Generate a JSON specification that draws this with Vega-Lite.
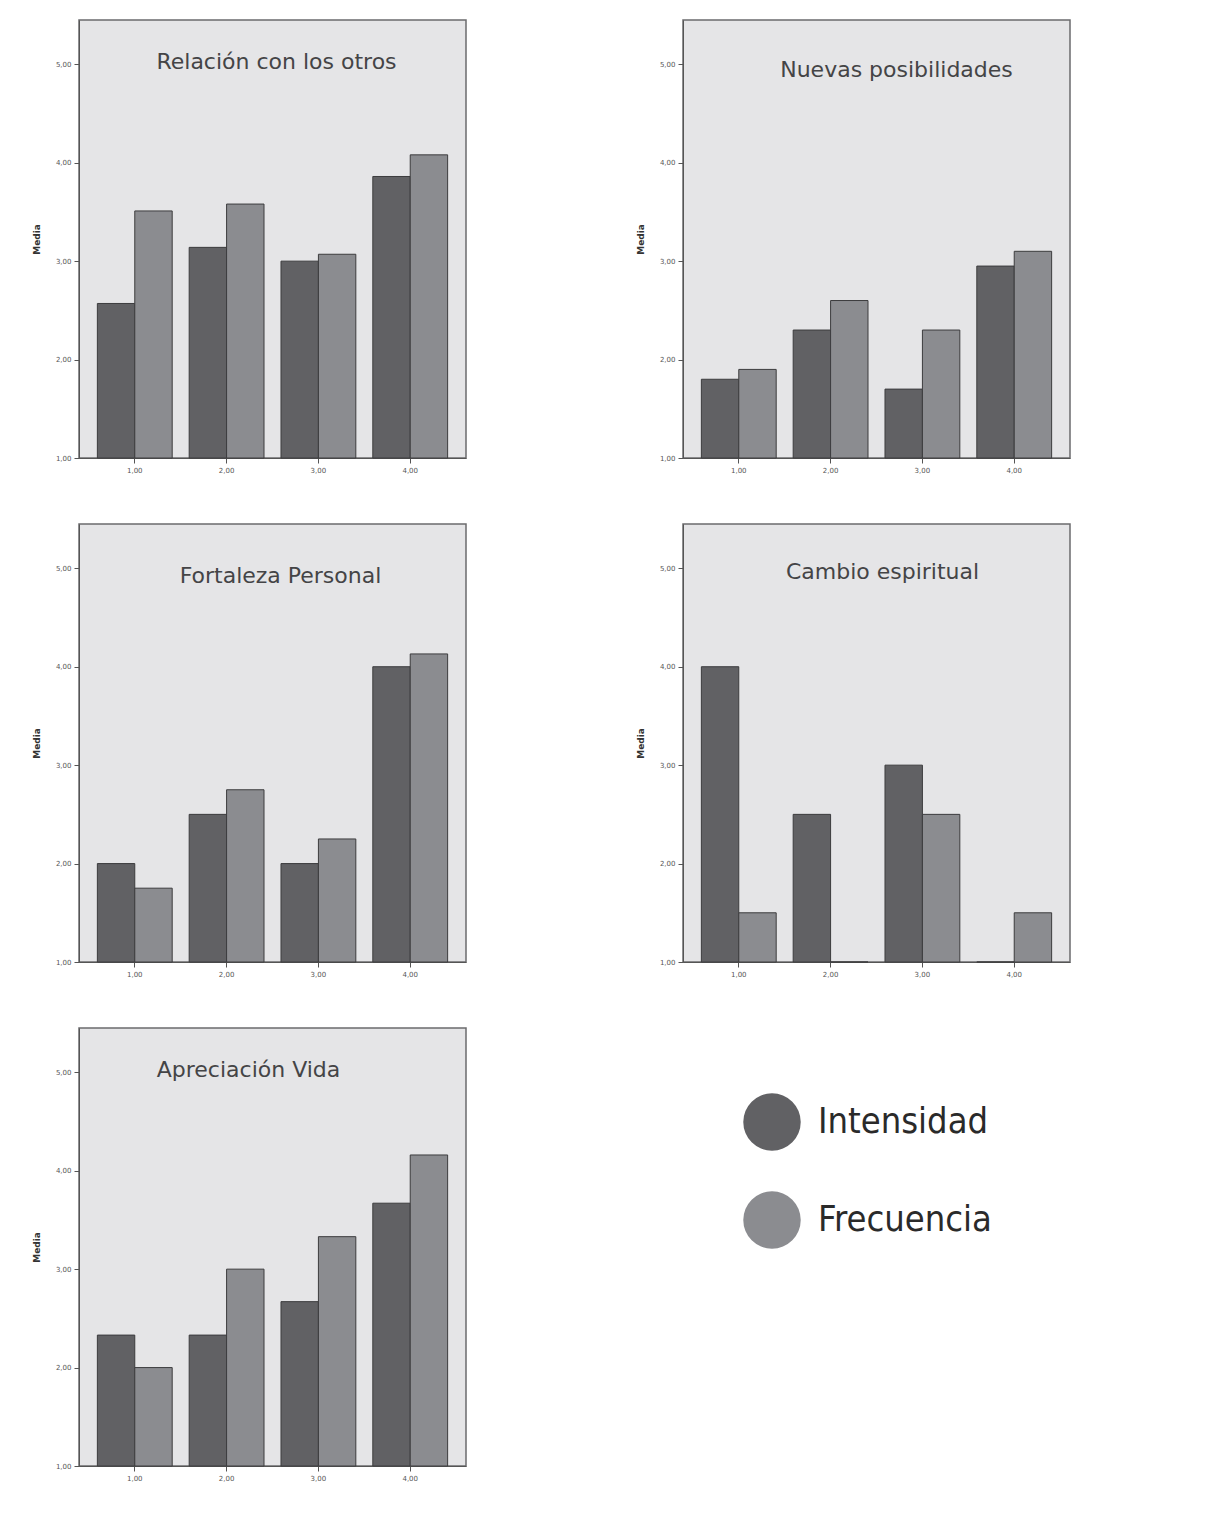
{
  "$schema": "https://vega.github.io/schema/vega-lite/v6.json",
  "background": "white",
  "padding": {"left": 31, "top": 19, "right": 5, "bottom": 5},
  "datasets": {
    "d": [
      {"panel": "Relación con los otros", "grupo": "1,00", "serie": "Intensidad", "media": 2.57},
      {"panel": "Relación con los otros", "grupo": "1,00", "serie": "Frecuencia", "media": 3.51},
      {"panel": "Relación con los otros", "grupo": "2,00", "serie": "Intensidad", "media": 3.14},
      {"panel": "Relación con los otros", "grupo": "2,00", "serie": "Frecuencia", "media": 3.58},
      {"panel": "Relación con los otros", "grupo": "3,00", "serie": "Intensidad", "media": 3.0},
      {"panel": "Relación con los otros", "grupo": "3,00", "serie": "Frecuencia", "media": 3.07},
      {"panel": "Relación con los otros", "grupo": "4,00", "serie": "Intensidad", "media": 3.86},
      {"panel": "Relación con los otros", "grupo": "4,00", "serie": "Frecuencia", "media": 4.08},
      {"panel": "Nuevas posibilidades", "grupo": "1,00", "serie": "Intensidad", "media": 1.8},
      {"panel": "Nuevas posibilidades", "grupo": "1,00", "serie": "Frecuencia", "media": 1.9},
      {"panel": "Nuevas posibilidades", "grupo": "2,00", "serie": "Intensidad", "media": 2.3},
      {"panel": "Nuevas posibilidades", "grupo": "2,00", "serie": "Frecuencia", "media": 2.6},
      {"panel": "Nuevas posibilidades", "grupo": "3,00", "serie": "Intensidad", "media": 1.7},
      {"panel": "Nuevas posibilidades", "grupo": "3,00", "serie": "Frecuencia", "media": 2.3},
      {"panel": "Nuevas posibilidades", "grupo": "4,00", "serie": "Intensidad", "media": 2.95},
      {"panel": "Nuevas posibilidades", "grupo": "4,00", "serie": "Frecuencia", "media": 3.1},
      {"panel": "Fortaleza Personal", "grupo": "1,00", "serie": "Intensidad", "media": 2.0},
      {"panel": "Fortaleza Personal", "grupo": "1,00", "serie": "Frecuencia", "media": 1.75},
      {"panel": "Fortaleza Personal", "grupo": "2,00", "serie": "Intensidad", "media": 2.5},
      {"panel": "Fortaleza Personal", "grupo": "2,00", "serie": "Frecuencia", "media": 2.75},
      {"panel": "Fortaleza Personal", "grupo": "3,00", "serie": "Intensidad", "media": 2.0},
      {"panel": "Fortaleza Personal", "grupo": "3,00", "serie": "Frecuencia", "media": 2.25},
      {"panel": "Fortaleza Personal", "grupo": "4,00", "serie": "Intensidad", "media": 4.0},
      {"panel": "Fortaleza Personal", "grupo": "4,00", "serie": "Frecuencia", "media": 4.13},
      {"panel": "Cambio espiritual", "grupo": "1,00", "serie": "Intensidad", "media": 4.0},
      {"panel": "Cambio espiritual", "grupo": "1,00", "serie": "Frecuencia", "media": 1.5},
      {"panel": "Cambio espiritual", "grupo": "2,00", "serie": "Intensidad", "media": 2.5},
      {"panel": "Cambio espiritual", "grupo": "2,00", "serie": "Frecuencia", "media": 1.0},
      {"panel": "Cambio espiritual", "grupo": "3,00", "serie": "Intensidad", "media": 3.0},
      {"panel": "Cambio espiritual", "grupo": "3,00", "serie": "Frecuencia", "media": 2.5},
      {"panel": "Cambio espiritual", "grupo": "4,00", "serie": "Intensidad", "media": 1.0},
      {"panel": "Cambio espiritual", "grupo": "4,00", "serie": "Frecuencia", "media": 1.5},
      {"panel": "Apreciación Vida", "grupo": "1,00", "serie": "Intensidad", "media": 2.33},
      {"panel": "Apreciación Vida", "grupo": "1,00", "serie": "Frecuencia", "media": 2.0},
      {"panel": "Apreciación Vida", "grupo": "2,00", "serie": "Intensidad", "media": 2.33},
      {"panel": "Apreciación Vida", "grupo": "2,00", "serie": "Frecuencia", "media": 3.0},
      {"panel": "Apreciación Vida", "grupo": "3,00", "serie": "Intensidad", "media": 2.67},
      {"panel": "Apreciación Vida", "grupo": "3,00", "serie": "Frecuencia", "media": 3.33},
      {"panel": "Apreciación Vida", "grupo": "4,00", "serie": "Intensidad", "media": 3.67},
      {"panel": "Apreciación Vida", "grupo": "4,00", "serie": "Frecuencia", "media": 4.16}
    ]
  },
  "columns": 2,
  "spacing": {"column": 168, "row": 49},
  "concat": [
    {
      "title": {"text": "Relación con los otros", "offset": -54, "dx": 4},
      "data": {"name": "d"},
      "transform": [{"filter": "datum.panel == 'Relación con los otros'"}],
      "width": 387, "height": 438,
      "mark": {"type": "bar", "stroke": "#3c3c3e", "strokeWidth": 1},
      "encoding": {
        "x": {"field": "grupo", "type": "nominal", "scale": {"paddingInner": 0.185, "paddingOuter": 0.2}, "axis": {"title": null}},
        "xOffset": {"field": "serie", "sort": ["Intensidad", "Frecuencia"], "scale": {"paddingInner": 0, "paddingOuter": 0}},
        "y": {"field": "media", "type": "quantitative", "scale": {"domain": [1, 5.45], "zero": false, "nice": false}, "axis": {"title": "Media", "values": [1, 2, 3, 4, 5], "labelExpr": "replace(format(datum.value, '.2f'), '.', ',')"}},
        "y2": {"datum": 1},
        "color": {"field": "serie", "type": "nominal", "scale": {"domain": ["Intensidad", "Frecuencia"], "range": ["#616164", "#8b8c90"]}, "legend": {"title": null}}
      }
    },
    {
      "title": {"text": "Nuevas posibilidades", "offset": -62, "dx": 20},
      "data": {"name": "d"},
      "transform": [{"filter": "datum.panel == 'Nuevas posibilidades'"}],
      "width": 387, "height": 438,
      "mark": {"type": "bar", "stroke": "#3c3c3e", "strokeWidth": 1},
      "encoding": {
        "x": {"field": "grupo", "type": "nominal", "scale": {"paddingInner": 0.185, "paddingOuter": 0.2}, "axis": {"title": null}},
        "xOffset": {"field": "serie", "sort": ["Intensidad", "Frecuencia"], "scale": {"paddingInner": 0, "paddingOuter": 0}},
        "y": {"field": "media", "type": "quantitative", "scale": {"domain": [1, 5.45], "zero": false, "nice": false}, "axis": {"title": "Media", "values": [1, 2, 3, 4, 5], "labelExpr": "replace(format(datum.value, '.2f'), '.', ',')"}},
        "y2": {"datum": 1},
        "color": {"field": "serie", "type": "nominal", "scale": {"domain": ["Intensidad", "Frecuencia"], "range": ["#616164", "#8b8c90"]}, "legend": {"title": null}}
      }
    },
    {
      "title": {"text": "Fortaleza Personal", "offset": -64, "dx": 8},
      "data": {"name": "d"},
      "transform": [{"filter": "datum.panel == 'Fortaleza Personal'"}],
      "width": 387, "height": 438,
      "mark": {"type": "bar", "stroke": "#3c3c3e", "strokeWidth": 1},
      "encoding": {
        "x": {"field": "grupo", "type": "nominal", "scale": {"paddingInner": 0.185, "paddingOuter": 0.2}, "axis": {"title": null}},
        "xOffset": {"field": "serie", "sort": ["Intensidad", "Frecuencia"], "scale": {"paddingInner": 0, "paddingOuter": 0}},
        "y": {"field": "media", "type": "quantitative", "scale": {"domain": [1, 5.45], "zero": false, "nice": false}, "axis": {"title": "Media", "values": [1, 2, 3, 4, 5], "labelExpr": "replace(format(datum.value, '.2f'), '.', ',')"}},
        "y2": {"datum": 1},
        "color": {"field": "serie", "type": "nominal", "scale": {"domain": ["Intensidad", "Frecuencia"], "range": ["#616164", "#8b8c90"]}, "legend": {"title": null}}
      }
    },
    {
      "title": {"text": "Cambio espiritual", "offset": -60, "dx": 6},
      "data": {"name": "d"},
      "transform": [{"filter": "datum.panel == 'Cambio espiritual'"}],
      "width": 387, "height": 438,
      "mark": {"type": "bar", "stroke": "#3c3c3e", "strokeWidth": 1},
      "encoding": {
        "x": {"field": "grupo", "type": "nominal", "scale": {"paddingInner": 0.185, "paddingOuter": 0.2}, "axis": {"title": null}},
        "xOffset": {"field": "serie", "sort": ["Intensidad", "Frecuencia"], "scale": {"paddingInner": 0, "paddingOuter": 0}},
        "y": {"field": "media", "type": "quantitative", "scale": {"domain": [1, 5.45], "zero": false, "nice": false}, "axis": {"title": "Media", "values": [1, 2, 3, 4, 5], "labelExpr": "replace(format(datum.value, '.2f'), '.', ',')"}},
        "y2": {"datum": 1},
        "color": {"field": "serie", "type": "nominal", "scale": {"domain": ["Intensidad", "Frecuencia"], "range": ["#616164", "#8b8c90"]}, "legend": {"title": null}}
      }
    },
    {
      "title": {"text": "Apreciación Vida", "offset": -54, "dx": -24},
      "data": {"name": "d"},
      "transform": [{"filter": "datum.panel == 'Apreciación Vida'"}],
      "width": 387, "height": 438,
      "mark": {"type": "bar", "stroke": "#3c3c3e", "strokeWidth": 1},
      "encoding": {
        "x": {"field": "grupo", "type": "nominal", "scale": {"paddingInner": 0.185, "paddingOuter": 0.2}, "axis": {"title": null}},
        "xOffset": {"field": "serie", "sort": ["Intensidad", "Frecuencia"], "scale": {"paddingInner": 0, "paddingOuter": 0}},
        "y": {"field": "media", "type": "quantitative", "scale": {"domain": [1, 5.45], "zero": false, "nice": false}, "axis": {"title": "Media", "values": [1, 2, 3, 4, 5], "labelExpr": "replace(format(datum.value, '.2f'), '.', ',')"}},
        "y2": {"datum": 1},
        "color": {"field": "serie", "type": "nominal", "scale": {"domain": ["Intensidad", "Frecuencia"], "range": ["#616164", "#8b8c90"]}, "legend": {"title": null}}
      }
    }
  ],
  "config": {
    "font": "DejaVu Sans",
    "view": {"fill": "#e5e5e7", "stroke": "#6b6b6d", "strokeWidth": 1.5},
    "title": {"font": "DejaVu Sans", "fontSize": 22, "fontWeight": "normal", "color": "#444446", "anchor": "middle", "frame": "group", "baseline": "middle"},
    "axis": {"labelFontSize": 7, "labelColor": "#555", "tickColor": "#555", "domainColor": "#555", "tickSize": 5, "grid": false, "labelPadding": 3, "titleFontSize": 9, "titleFontWeight": "bold", "titleColor": "#333", "labelAngle": 0, "titlePadding": 14},
    "legend": {
      "orient": "none", "legendX": 664, "legendY": 1073, "padding": 0,
      "symbolType": "circle", "symbolSize": 3300, "symbolStrokeWidth": 0, "symbolOpacity": 1,
      "labelFontSize": 36, "labelFont": "DejaVu Sans Condensed", "labelColor": "#2a2a2a", "labelOffset": 17, "rowPadding": 40, "labelLimit": 400
    }
  }
}
